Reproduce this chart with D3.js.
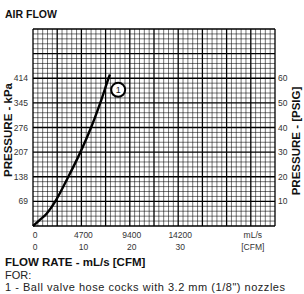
<!DOCTYPE html>
<html>
<head>
<meta charset="utf-8">
<script src="https://cdn.jsdelivr.net/npm/d3@7"></script>
<style>
  html, body { margin: 0; padding: 0; background: #fff; }
  svg { display: block; font-family: "Liberation Sans", Arial, sans-serif; }
</style>
</head>
<body>
<div id="chart"></div>
<script>
/* curve: flow (CFM) vs pressure (PSIG) */
let curve_cfm = [0, 1.7, 2.8, 4.6, 7.3, 9.8, 12.0, 13.9, 15.6, 15.9];
let curve_psi = [0, 3, 5, 10, 20, 30, 40, 50, 60, 61.5];

/* tick labels */
let kpa_labels = ['69', '138', '207', '276', '345', '414'];
let psi_ticks = [10, 20, 30, 40, 50, 60];
let cfm_ticks = [0, 10, 20, 30];
let mls_labels = ['0', '4700', '9400', '14200'];

/* callout */
let callout_cfm = [17.6];
let callout_psi = [55.3];
let callout_text = ['1'];

const W = 304, H = 294;
const gLeft = 33, gRight = 275, gTop = 29, gBottom = 226;

let svg = d3.select('#chart').append('svg').attr('width', W).attr('height', H);

let x = d3.scaleLinear().domain([0, 50]).range([gLeft, gRight]);
let y = d3.scaleLinear().domain([0, 80]).range([gBottom, gTop]);

// grid - minor + major
let g = svg.append('g');
g.selectAll('.vgrid').data(d3.range(0, 51, 1)).enter().append('line')
  .attr('x1', d => x(d)).attr('x2', d => x(d))
  .attr('y1', gTop).attr('y2', gBottom)
  .attr('stroke', '#000').attr('stroke-width', d => d % 5 === 0 ? 1.3 : 0.55);
g.selectAll('.hgrid').data(d3.range(0, 81, 2)).enter().append('line')
  .attr('y1', d => y(d)).attr('y2', d => y(d))
  .attr('x1', gLeft).attr('x2', gRight)
  .attr('stroke', '#000').attr('stroke-width', d => d % 10 === 0 ? 1.3 : 0.55);

// curve
let line = d3.line()
  .x((d, i) => x(curve_cfm[i]))
  .y(d => y(d))
  .curve(d3.curveCatmullRom);
svg.append('path').attr('d', line(curve_psi))
  .attr('fill', 'none').attr('stroke', '#000').attr('stroke-width', 2.4);

// callout circle
svg.selectAll('.callout').data(callout_text).enter().append('circle')
  .attr('cx', (d, i) => x(callout_cfm[i])).attr('cy', (d, i) => y(callout_psi[i]))
  .attr('r', 7).attr('fill', '#fff').attr('stroke', '#000').attr('stroke-width', 2);
svg.selectAll('.callout-t').data(callout_text).enter().append('text')
  .attr('x', (d, i) => x(callout_cfm[i])).attr('y', (d, i) => y(callout_psi[i]) + 3.2)
  .attr('text-anchor', 'middle').attr('font-size', 9).attr('fill', '#222')
  .text(d => d);

// left kPa labels
svg.selectAll('.kpa').data(kpa_labels).enter().append('text')
  .attr('x', 28).attr('y', (d, i) => y(psi_ticks[i]) + 3)
  .attr('text-anchor', 'end').attr('font-size', 8.5).attr('fill', '#333')
  .text(d => d);

// right PSI labels
svg.selectAll('.psi').data(psi_ticks).enter().append('text')
  .attr('x', 278).attr('y', d => y(d) + 3)
  .attr('font-size', 8.5).attr('fill', '#333')
  .text(d => d);

// bottom labels
svg.selectAll('.mls').data(mls_labels).enter().append('text')
  .attr('x', (d, i) => x(cfm_ticks[i]) + 2).attr('y', 238)
  .attr('text-anchor', 'middle').attr('font-size', 8.5).attr('fill', '#333')
  .text(d => d);
svg.selectAll('.cfm').data(cfm_ticks).enter().append('text')
  .attr('x', d => x(d) + 2).attr('y', 250)
  .attr('text-anchor', 'middle').attr('font-size', 8.5).attr('fill', '#333')
  .text(d => d);
svg.append('text').attr('x', x(45) + 2).attr('y', 238).attr('text-anchor', 'middle')
  .attr('font-size', 8.5).attr('fill', '#333').text('mL/s');
svg.append('text').attr('x', x(45) + 2).attr('y', 250).attr('text-anchor', 'middle')
  .attr('font-size', 8.5).attr('fill', '#333').text('[CFM]');

// titles
svg.append('text').attr('x', 5).attr('y', 18).attr('font-size', 10.5)
  .attr('font-weight', 'bold').attr('fill', '#111').text('AIR FLOW');
svg.append('text').attr('transform', 'translate(12,130) rotate(-90)')
  .attr('text-anchor', 'middle').attr('font-size', 11.5).attr('font-weight', 'bold')
  .attr('fill', '#111').text('PRESSURE - kPa');
svg.append('text').attr('transform', 'translate(300,141) rotate(-90)')
  .attr('text-anchor', 'middle').attr('font-size', 11.5).attr('font-weight', 'bold')
  .attr('fill', '#111').text('PRESSURE - [PSIG]');
svg.append('text').attr('x', 5).attr('y', 266).attr('font-size', 11.5)
  .attr('font-weight', 'bold').attr('fill', '#111').text('FLOW RATE - mL/s [CFM]');
svg.append('text').attr('x', 5).attr('y', 279).attr('font-size', 11)
  .attr('fill', '#222').text('FOR:');
svg.append('text').attr('x', 5).attr('y', 291).attr('font-size', 11)
  .attr('textLength', 280).attr('lengthAdjust', 'spacing')
  .attr('fill', '#222').text('1 - Ball valve hose cocks with 3.2 mm (1/8") nozzles');
</script>
</body>
</html>
